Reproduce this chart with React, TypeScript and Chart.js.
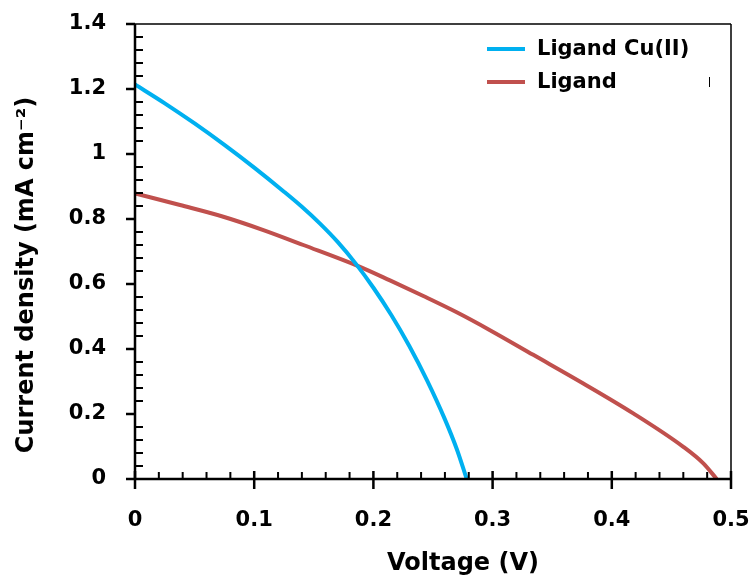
import React, { useEffect, useRef } from "react";
import { Chart, registerables } from "chart.js";

Chart.register(...registerables);

const seriesNames = ["Ligand Cu(II)", "Ligand"];
const seriesColors = ["#00B0F0", "#C0504D"];

const voltageCu = [0, 0.025, 0.05, 0.075, 0.1, 0.125, 0.14, 0.155, 0.17, 0.185, 0.2, 0.215, 0.23, 0.245, 0.26, 0.27, 0.2783];
const currentCu = [1.214, 1.156, 1.094, 1.028, 0.958, 0.884, 0.8375, 0.7865, 0.7295, 0.6635, 0.5885, 0.5045, 0.41, 0.3035, 0.1835, 0.0915, 0.0];

const voltageL = [0, 0.0378, 0.0741, 0.1077, 0.1412, 0.1873, 0.2139, 0.2419, 0.2699, 0.2978, 0.3341, 0.3761, 0.418, 0.46, 0.4768, 0.488];
const currentL = [0.879, 0.843, 0.807, 0.766, 0.72, 0.655, 0.611, 0.563, 0.513, 0.458, 0.382, 0.294, 0.202, 0.099, 0.048, 0.0];

const xMajorTicks = [0, 0.1, 0.2, 0.3, 0.4, 0.5];
const yMajorTicks = [0, 0.2, 0.4, 0.6, 0.8, 1.0, 1.2, 1.4];
const xMinorStep = 0.02;
const yMinorStep = 0.04;

const xTitle = "Voltage (V)";
const yTitle = "Current density (mA cm\u207B\u00B2)";

const FONT = "'DejaVu Sans', sans-serif";

const decorPlugin = {
  id: "decor",
  afterDraw(chart: any) {
    const { ctx, chartArea, scales } = chart;
    const { left, right, top, bottom } = chartArea;
    const xs = scales.x;
    const ys = scales.y;
    ctx.save();
    ctx.strokeStyle = "#000";
    ctx.lineCap = "butt";
    // frame top/right
    ctx.lineWidth = 1.5;
    ctx.beginPath();
    ctx.moveTo(left, top);
    ctx.lineTo(right, top);
    ctx.moveTo(right, top);
    ctx.lineTo(right, bottom);
    ctx.stroke();
    // axis lines
    ctx.lineWidth = 2.5;
    ctx.beginPath();
    ctx.moveTo(left, top);
    ctx.lineTo(left, bottom);
    ctx.moveTo(left, bottom);
    ctx.lineTo(right + 1, bottom);
    ctx.stroke();
    // y major ticks (outward)
    ctx.lineWidth = 2.5;
    ctx.beginPath();
    for (const v of yMajorTicks) {
      const p = ys.getPixelForValue(v);
      ctx.moveTo(left - 9, p);
      ctx.lineTo(left, p);
    }
    ctx.stroke();
    // y minor ticks (inward)
    ctx.lineWidth = 2;
    ctx.beginPath();
    const nY = Math.round(1.4 / yMinorStep);
    for (let i = 0; i <= nY; i++) {
      if (i % 5 === 0) continue;
      const p = ys.getPixelForValue(i * yMinorStep);
      ctx.moveTo(left, p);
      ctx.lineTo(left + 8, p);
    }
    ctx.stroke();
    // x major ticks (cross)
    ctx.lineWidth = 2.5;
    ctx.beginPath();
    for (const v of xMajorTicks) {
      const p = xs.getPixelForValue(v);
      ctx.moveTo(p, bottom - 8);
      ctx.lineTo(p, bottom + 10);
    }
    ctx.stroke();
    // x minor ticks (inward)
    ctx.lineWidth = 2;
    ctx.beginPath();
    const nX = Math.round(0.5 / xMinorStep);
    for (let i = 0; i <= nX; i++) {
      if (i % 5 === 0) continue;
      const p = xs.getPixelForValue(i * xMinorStep);
      ctx.moveTo(p, bottom - 7);
      ctx.lineTo(p, bottom);
    }
    ctx.stroke();

    // axis titles
    ctx.fillStyle = "#000";
    ctx.font = `bold 24px ${FONT}`;
    ctx.textAlign = "center";
    ctx.textBaseline = "alphabetic";
    ctx.fillText(xTitle, 463, 570);
    ctx.save();
    ctx.translate(33, 275);
    ctx.rotate(-Math.PI / 2);
    ctx.fillText(yTitle, 0, 0);
    ctx.restore();

    // legend
    ctx.font = `bold 21px ${FONT}`;
    ctx.textAlign = "left";
    ctx.textBaseline = "middle";
    const legendY = [49, 82];
    chart.data.datasets.forEach((ds: any, i: number) => {
      ctx.strokeStyle = ds.borderColor;
      ctx.lineWidth = 4;
      ctx.beginPath();
      ctx.moveTo(487, legendY[i]);
      ctx.lineTo(525, legendY[i]);
      ctx.stroke();
      ctx.fillStyle = "#000";
      ctx.fillText(ds.label, 537, legendY[i] + 1);
    });
    // small stray mark in the legend box
    ctx.strokeStyle = "#000";
    ctx.lineWidth = 1;
    ctx.beginPath();
    ctx.moveTo(709.5, 77);
    ctx.lineTo(709.5, 87);
    ctx.stroke();
    ctx.restore();
  },
};

const zeroPad = (s: any) => {
  s.paddingTop = 0;
  s.paddingBottom = 0;
  s.paddingLeft = 0;
  s.paddingRight = 0;
};

export default function App() {
  const ref = useRef<HTMLCanvasElement | null>(null);
  useEffect(() => {
    document.body.style.margin = "0";
    const canvas = ref.current;
    if (!canvas) return;
    const fmt = (v: any) => String(Number(Number(v).toFixed(2)));
    const chart = new Chart(canvas, {
      type: "scatter",
      data: {
        datasets: [
          {
            label: seriesNames[0],
            data: voltageCu.map((x, i) => ({ x, y: currentCu[i] })),
            borderColor: seriesColors[0],
            backgroundColor: seriesColors[0],
            borderWidth: 4,
            showLine: true,
            pointRadius: 0,
            cubicInterpolationMode: "monotone",
          },
          {
            label: seriesNames[1],
            data: voltageL.map((x, i) => ({ x, y: currentL[i] })),
            borderColor: seriesColors[1],
            backgroundColor: seriesColors[1],
            borderWidth: 4,
            showLine: true,
            pointRadius: 0,
            cubicInterpolationMode: "monotone",
          },
        ],
      },
      options: {
        responsive: false,
        animation: false,
        layout: { padding: { left: 0, top: 24, right: 20, bottom: 0 } },
        plugins: { legend: { display: false }, tooltip: { enabled: false } },
        scales: {
          x: {
            type: "linear",
            min: 0,
            max: 0.5,
            grid: { display: false, drawTicks: true, tickLength: 29 },
            border: { display: false },
            afterBuildTicks: (s: any) => {
              s.ticks = xMajorTicks.map((v) => ({ value: v }));
            },
            afterFit: (s: any) => {
              s.height = 99;
              zeroPad(s);
            },
            ticks: {
              padding: 0,
              color: "#000",
              maxRotation: 0,
              font: { family: FONT, size: 21, weight: "bold" },
              callback: fmt,
            },
          },
          y: {
            type: "linear",
            min: 0,
            max: 1.4,
            grid: { display: false, drawTicks: true, tickLength: 29 },
            border: { display: false },
            afterBuildTicks: (s: any) => {
              s.ticks = yMajorTicks.map((v) => ({ value: v }));
            },
            afterFit: (s: any) => {
              s.width = 135;
              zeroPad(s);
            },
            ticks: {
              padding: 0,
              color: "#000",
              font: { family: FONT, size: 21, weight: "bold" },
              callback: fmt,
            },
          },
        },
      },
      plugins: [decorPlugin],
    } as any);
    return () => chart.destroy();
  }, []);
  return (
    <div style={{ width: 751, height: 578 }}>
      <canvas ref={ref} width={751} height={578} style={{ display: "block" }} />
    </div>
  );
}
